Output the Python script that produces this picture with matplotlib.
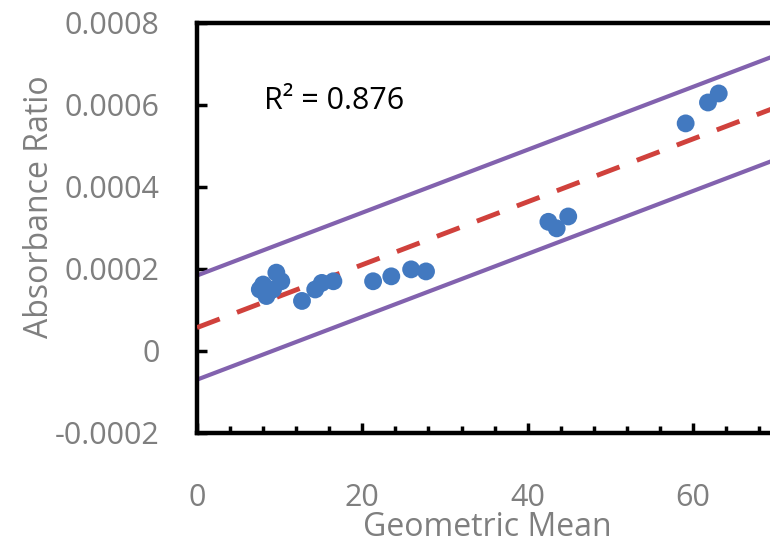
import matplotlib.pyplot as plt
import numpy as np
from matplotlib.ticker import MultipleLocator

# values
geo_mean = [7.6, 8.0, 8.4, 9.2, 9.6, 10.2, 12.7, 14.3, 15.1, 16.5,
            21.3, 23.5, 25.9, 27.7, 42.5, 43.5, 44.9, 59.1, 61.8, 63.1]
abs_ratio = [0.000150, 0.000162, 0.000134, 0.000150, 0.000191, 0.000170,
             0.000122, 0.000150, 0.000166, 0.000170, 0.000170, 0.000182,
             0.000199, 0.000194, 0.000315, 0.000299, 0.000328, 0.000555,
             0.000606, 0.000628]
fit_intercept = 0.000057
fit_slope = 7.67e-6
band_offset = 0.000127
r2_text = "R² = 0.876"
x_ticks = [0, 20, 40, 60]
y_ticks = [-0.0002, 0, 0.0002, 0.0004, 0.0006, 0.0008]
y_tick_labels = ["-0.0002", "0", "0.0002", "0.0004", "0.0006", "0.0008"]

plt.rcParams['font.family'] = ['Open Sans', 'DejaVu Sans']
grey = '#7f7f7f'

fig = plt.figure(figsize=(7.7, 5.46), dpi=100)
ax = fig.add_axes([0.2558, 0.207, 0.7442, 0.751])

xs = np.array([0, 80])
ax.plot(xs, fit_intercept + fit_slope * xs + band_offset, color='#8262AE', lw=3, zorder=2)
ax.plot(xs, fit_intercept + fit_slope * xs - band_offset, color='#8262AE', lw=3, zorder=2)
ax.plot(xs, fit_intercept + fit_slope * xs, color='#D0413C', lw=3.5,
        dashes=(5, 3.8), zorder=3)
ax.scatter(geo_mean, abs_ratio, s=165, color='#4279C0', edgecolors='none', zorder=4)

ax.text(8.1, 0.00061, r2_text, fontsize=22, color='black', va='center', ha='left')

ax.set_xlim(0, 69.3)
ax.set_ylim(-0.0002, 0.0008)
ax.set_xticks(x_ticks)
ax.xaxis.set_minor_locator(MultipleLocator(4))
ax.set_yticks(y_ticks)
ax.set_yticklabels(y_tick_labels)

for side in ['left', 'bottom', 'top']:
    ax.spines[side].set_linewidth(3.2)
    ax.spines[side].set_color('black')
ax.spines['right'].set_visible(False)

ax.tick_params(axis='both', which='major', direction='in', length=7, width=2.5,
               colors='black', labelcolor=grey, labelsize=22)
ax.tick_params(axis='x', which='major', pad=36)
ax.tick_params(axis='y', which='major', pad=27)
ax.tick_params(axis='x', which='minor', direction='in', length=5, width=2.5, color='black')

fig.text(0.633, 0.034, "Geometric Mean", fontsize=23, color=grey, ha='center', va='center')
fig.text(0.051, 0.621, "Absorbance Ratio", fontsize=23, color=grey, ha='center',
         va='center', rotation=90)

fig.savefig('out.png', dpi=100)
